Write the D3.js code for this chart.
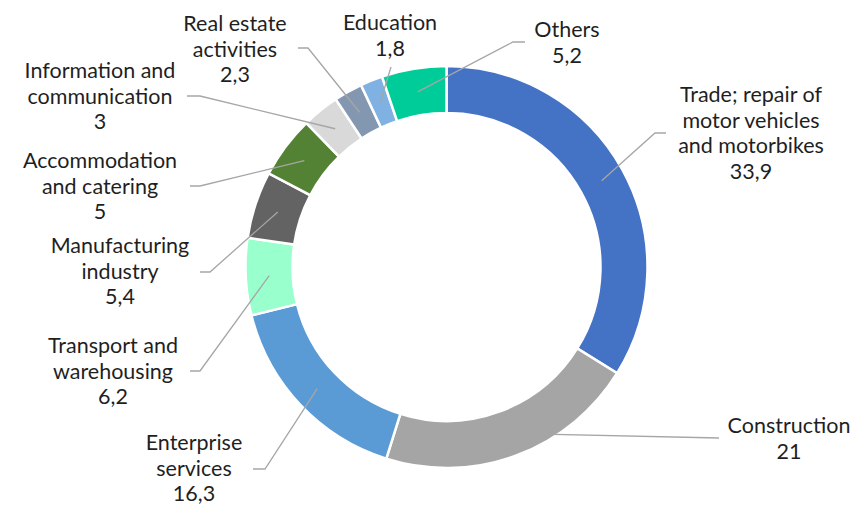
<!DOCTYPE html>
<html><head><meta charset="utf-8">
<script src="https://cdn.jsdelivr.net/npm/d3@7"></script>
<style>body{margin:0;background:#fff}svg{display:block}text{font-family:Lato,"Noto Sans",sans-serif;fill:#1f1f1f}</style>
</head><body><svg id="c" width="856" height="505"></svg>
<script>
const categories = ["Trade; repair of motor vehicles and motorbikes","Construction","Enterprise services","Transport and warehousing","Manufacturing industry","Accommodation and catering","Information and communication","Real estate activities","Education","Others"];
const values = [33.9, 21, 16.3, 6.2, 5.4, 5, 3, 2.3, 1.8, 5.2];
const colors = ["#4472C4","#A5A5A5","#5B9BD5","#99FFCC","#636363","#548235","#D9D9D9","#8497B0","#7FB1E2","#00CC99"];
// label layout (line breaks, positions of label text and leader elbows)
const labelLines = [["Trade; repair of","motor vehicles","and motorbikes"],["Construction"],["Enterprise","services"],["Transport and","warehousing"],["Manufacturing","industry"],["Accommodation","and catering"],["Information and","communication"],["Real estate","activities"],["Education"],["Others"]];
const labelPos = [[751,102],[789,433],[194,450],[113,353],[120,253],[100,168],[100,78],[235,31],[390,30],[567,37]];
const elbows = [[[655,133],[666,133]],[[719,438],[719,438]],[[265,469],[253,469]],[[200,371],[190,371]],[[210,272],[200,272]],[[200,186],[190,186]],[[200,96],[187,96]],[[308,48],[298,48]],[[391,67],[391,67]],[[513,42],[525,42]]];

const svg = d3.select("#c");
const cx = 446.5, cy = 267, R = 201, r = 154;
const g = svg.append("g").attr("transform",`translate(${cx},${cy})`);
const pie = d3.pie().sort(null).value(d=>d.v);
const data = categories.map((c,i)=>({c, v:values[i], i}));
const arcs = pie(data);
const arc = d3.arc().innerRadius(r).outerRadius(R);
g.selectAll("path.s").data(arcs).join("path").attr("class","s")
  .attr("d",arc).attr("fill",d=>colors[d.data.i]).attr("stroke","#fff").attr("stroke-width",2.5);
// leader lines
const line = d3.line();
svg.selectAll("path.l").data(arcs).join("path").attr("class","l")
  .attr("d",d=>{const c=arc.centroid(d);const e=elbows[d.data.i];return line([[c[0]+cx,c[1]+cy],e[0],e[1]]);})
  .attr("fill","none").attr("stroke","#A6A6A6").attr("stroke-width",1.3);
const fmt = v => String(v).replace(".",",");
const lh = 25.7;
arcs.forEach(d=>{
  const i=d.data.i, p=labelPos[i];
  const t=svg.append("text").attr("x",p[0]).attr("y",p[1]).attr("text-anchor","middle").style("font-size","21.5px");
  labelLines[i].concat([fmt(d.data.v)]).forEach((s,k)=>{
    t.append("tspan").attr("x",p[0]).attr("y",p[1]+k*lh).text(s);
  });
});
</script></body></html>
